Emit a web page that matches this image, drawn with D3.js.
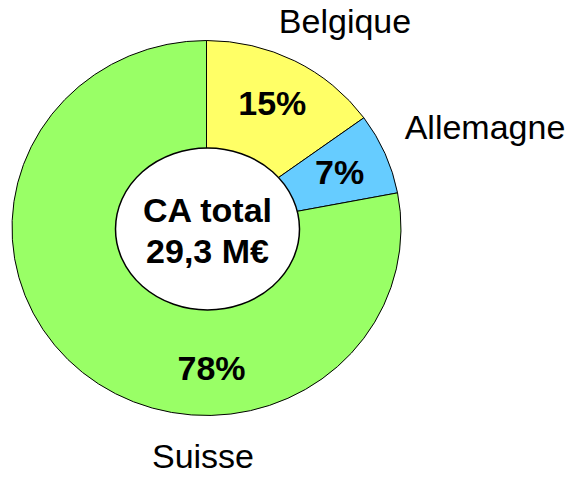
<!DOCTYPE html>
<html><head><meta charset="utf-8">
<script src="https://cdn.jsdelivr.net/npm/d3@7"></script>
<style>html,body{margin:0;padding:0;background:#fff;}svg{display:block;}</style>
</head><body>
<svg id="chart" width="572" height="477"></svg>
<script>
// Data
const categories = ["Belgique", "Allemagne", "Suisse"];
const values = [15, 7, 78];
const valueLabels = ["15%", "7%", "78%"];
const colors = ["#FFFF66", "#66CCFF", "#99FF66"];
const centerLines = ["CA total", "29,3 M€"];

// Layout
const W = 572, H = 477;
const cx = 206.5, cy = 228, rx = 194.5, ry = 187.5;
const inner = {cx: 207.5, cy: 229, rx: 92, ry: 81};
const labelR = 145;
const labelAngleOverride = {"Suisse": 178};
const catPos = {
  "Belgique": [345, 33],
  "Allemagne": [485, 139],
  "Suisse": [203, 468]
};
const font = "'Liberation Sans', Arial, Helvetica, sans-serif";

const svg = d3.select("#chart");
const pie = d3.pie().sort(null).value(d => d)(values);
const arc = d3.arc().innerRadius(0).outerRadius(rx);

const g = svg.append("g").attr("transform", `translate(${cx},${cy}) scale(1,${ry/rx})`);
g.selectAll("path").data(pie).enter().append("path")
  .attr("d", arc)
  .attr("fill", (d, i) => colors[i])
  .attr("stroke", "#000")
  .attr("stroke-width", 1)
  .attr("vector-effect", "non-scaling-stroke");

svg.append("ellipse")
  .attr("cx", inner.cx).attr("cy", inner.cy)
  .attr("rx", inner.rx).attr("ry", inner.ry)
  .attr("fill", "#fff").attr("stroke", "#000").attr("stroke-width", 1.5);

// value labels
pie.forEach((d, i) => {
  const cat = categories[i];
  const angDeg = labelAngleOverride[cat] !== undefined ? labelAngleOverride[cat] : ((d.startAngle + d.endAngle) / 2) * 180 / Math.PI;
  const a = angDeg * Math.PI / 180;
  const x = cx + labelR * Math.sin(a);
  const y = cy - labelR * Math.cos(a) * (ry / rx);
  svg.append("text")
    .attr("x", x).attr("y", y)
    .attr("text-anchor", "middle").attr("dominant-baseline", "central")
    .attr("font-family", font).attr("font-weight", "bold").attr("font-size", 34)
    .attr("fill", "#000")
    .text(valueLabels[i]);
});

// category labels
categories.forEach(c => {
  svg.append("text")
    .attr("x", catPos[c][0]).attr("y", catPos[c][1])
    .attr("text-anchor", "middle")
    .attr("font-family", font).attr("font-size", 34)
    .attr("fill", "#000")
    .text(c);
});

// center text
centerLines.forEach((t, i) => {
  svg.append("text")
    .attr("x", inner.cx).attr("y", 222 + i * 41)
    .attr("text-anchor", "middle")
    .attr("font-family", font).attr("font-weight", "bold").attr("font-size", 34)
    .attr("fill", "#000")
    .text(t);
});
</script>
</body></html>
